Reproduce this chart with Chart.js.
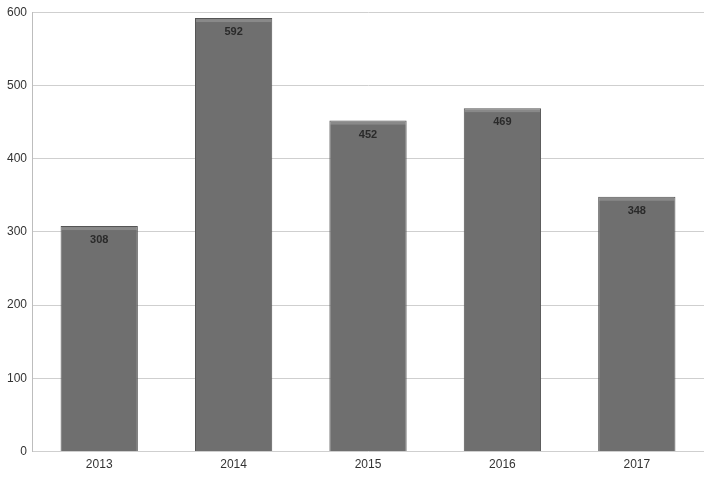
<!DOCTYPE html>
<html>
<head>
<meta charset="utf-8">
<script src="https://cdn.jsdelivr.net/npm/chart.js@4/dist/chart.umd.min.js"></script>
<style>
  html, body { margin: 0; padding: 0; background: #fff; }
  #wrap { width: 704px; height: 478px; }
</style>
</head>
<body>
<div id="wrap"><canvas id="barChart" width="704" height="478"></canvas></div>
<script>
const years = ['2013', '2014', '2015', '2016', '2017'];
const counts = [308, 592, 452, 469, 348];
const yTicks = [0, 100, 200, 300, 400, 500, 600];

// bevelled grey fill, darker at the sides
function barFill(ctx) {
    const el = ctx.element;
    const c = ctx.chart.ctx;
    if (!el || el.width === undefined) return '#6f6f6f';
    const x0 = el.x - el.width / 2;
    const g = c.createLinearGradient(x0, 0, x0 + el.width, 0);
    g.addColorStop(0, '#5c5c5c');
    g.addColorStop(0.06, '#737373');
    g.addColorStop(0.5, '#787878');
    g.addColorStop(0.94, '#737373');
    g.addColorStop(1, '#5c5c5c');
    return g;
}

// value text just under the top of each bar
const valueLabels = {
    id: 'valueLabels',
    afterDatasetsDraw(chart) {
        const c = chart.ctx;
        const meta = chart.getDatasetMeta(0);
        c.save();
        c.font = 'bold 11px "Liberation Sans", Arial, sans-serif';
        c.textAlign = 'center';
        c.textBaseline = 'middle';
        meta.data.forEach((bar, i) => {
            // light bevel strip along the top
            c.fillStyle = 'rgba(255,255,255,0.18)';
            c.fillRect(bar.x - bar.width / 2 + 1, bar.y + 1, bar.width - 2, 3);
            c.fillStyle = '#2a2a2a';
            c.fillText(counts[i], bar.x, bar.y + 14);
        });
        c.restore();
    }
};

const ctx = document.getElementById('barChart').getContext('2d');
const chart = new Chart(ctx, {
    type: 'bar',
    data: {
        labels: years,
        datasets: [{
            data: counts,
            backgroundColor: barFill,
            borderColor: '#555555',
            borderWidth: 1,
            borderSkipped: 'bottom',
            barPercentage: 0.575,
            categoryPercentage: 1.0
        }]
    },
    plugins: [valueLabels],
    options: {
        responsive: false,
        animation: false,
        layout: { padding: { top: 5, right: 0, left: 2, bottom: 0 } },
        plugins: {
            legend: { display: false },
            tooltip: { enabled: false }
        },
        scales: {
            x: {
                grid: { display: false, drawTicks: false },
                border: { display: false },
                ticks: {
                    color: '#333',
                    padding: 6,
                    font: { family: '"Liberation Sans", Arial, sans-serif', size: 12 }
                }
            },
            y: {
                min: 0,
                max: 600,
                afterBuildTicks(axis) {
                    axis.ticks = yTicks.map(v => ({ value: v }));
                },
                grid: { color: '#cfcfcf', drawTicks: false },
                border: { color: '#bdbdbd' },
                ticks: {
                    color: '#333',
                    padding: 5,
                    font: { family: '"Liberation Sans", Arial, sans-serif', size: 12 }
                }
            }
        }
    }
});
</script>
</body>
</html>
